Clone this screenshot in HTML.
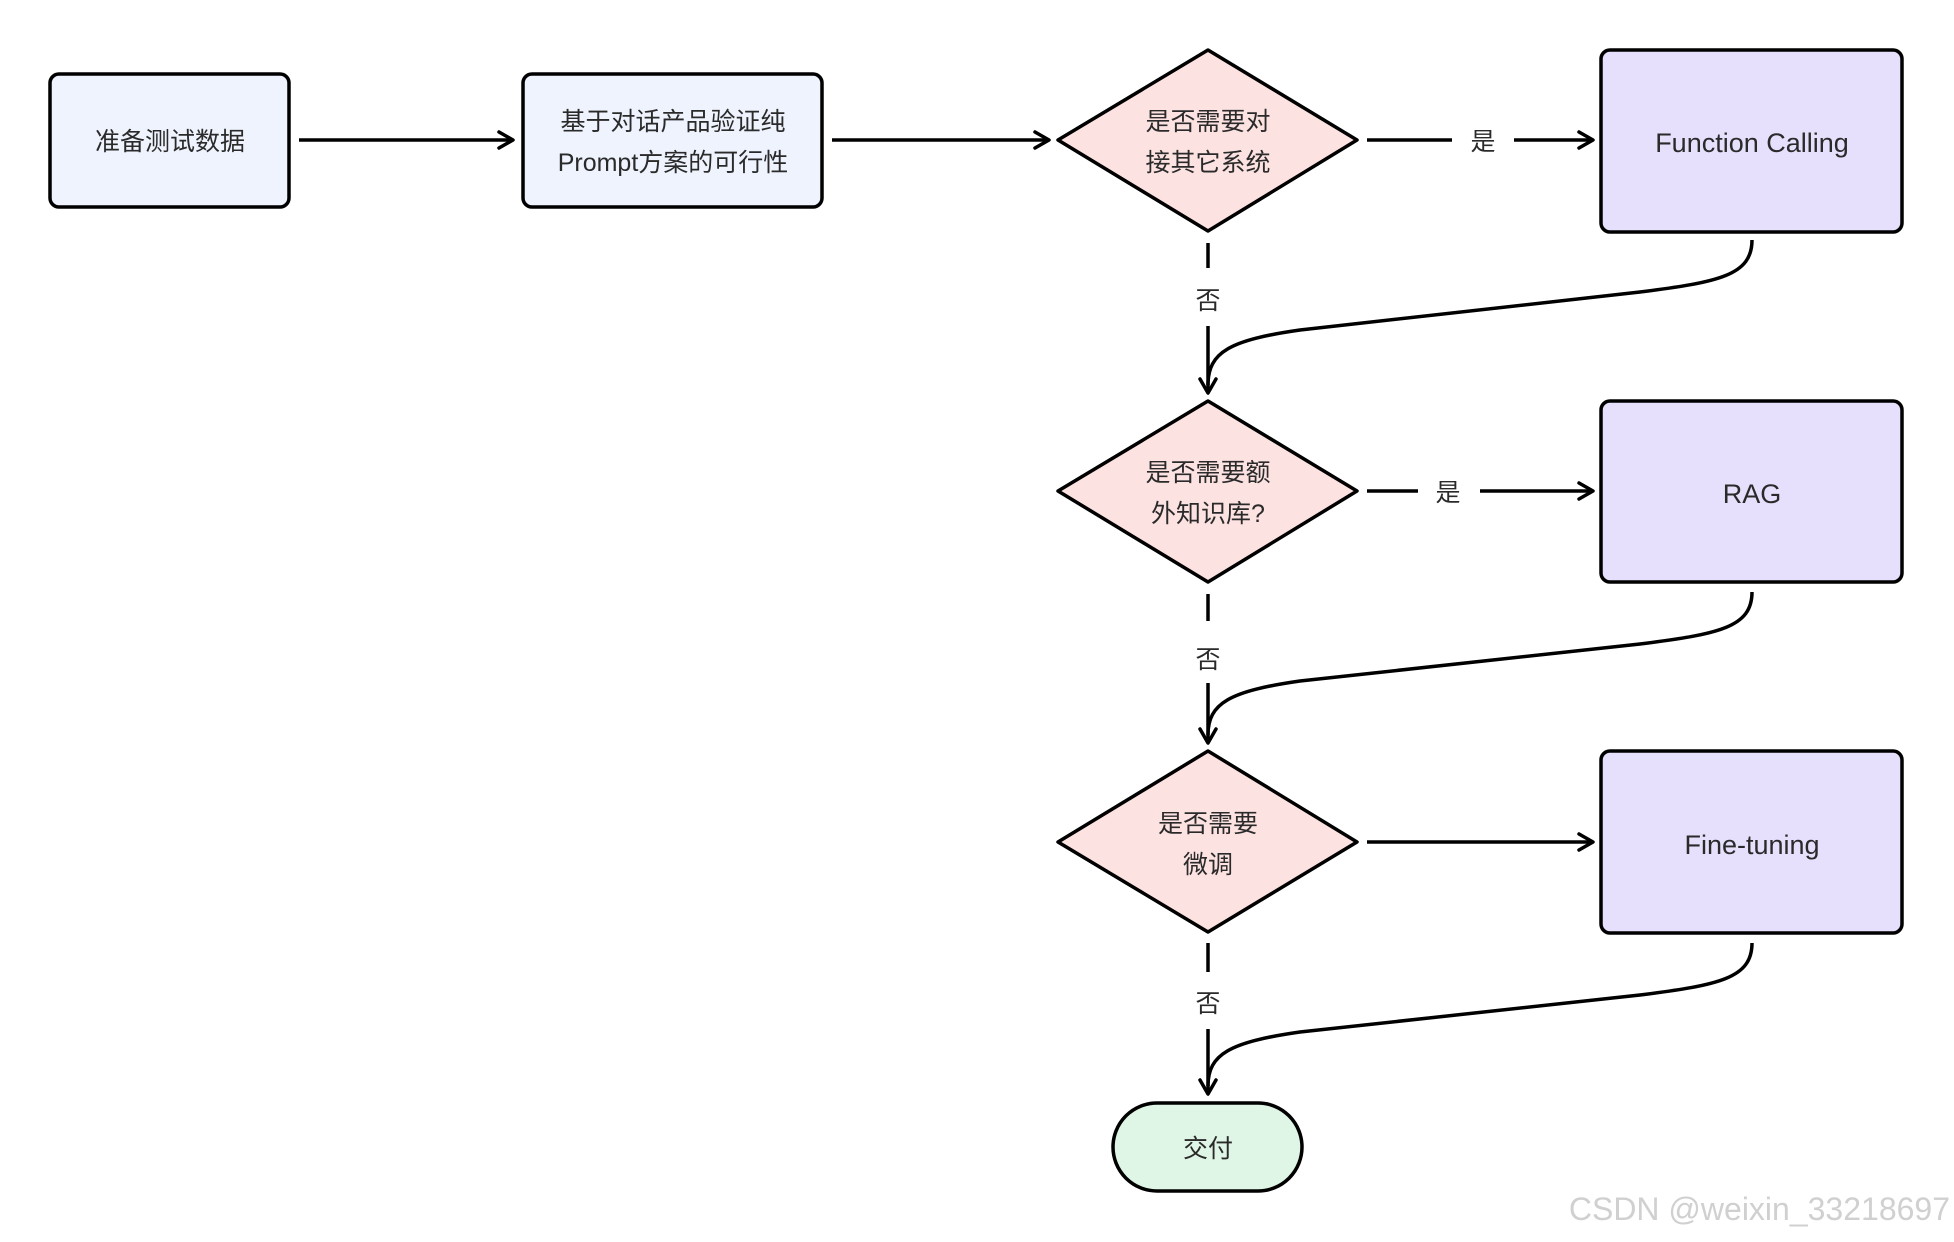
<!DOCTYPE html>
<html><head><meta charset="utf-8"><style>
html,body{margin:0;padding:0;background:#fff;}
svg{display:block;}
text{font-family:"Liberation Sans","Noto Sans CJK SC",sans-serif;fill:#2a2a2a;}
</style></head><body>
<svg width="1954" height="1242" viewBox="0 0 1954 1242" xmlns="http://www.w3.org/2000/svg">
<defs>
<marker id="a" viewBox="0 0 20 20" refX="18" refY="10" markerWidth="20" markerHeight="20" markerUnits="userSpaceOnUse" orient="auto">
<path d="M4 2 L18 10 L4 18" fill="none" stroke="#000" stroke-width="3.5" stroke-linecap="round" stroke-linejoin="round"/>
</marker>
</defs>
<g stroke="#000" stroke-width="3.5" fill="none">
<rect x="50" y="74" width="239" height="133" rx="9" fill="#eef3fd"/>
<rect x="523" y="74" width="299" height="133" rx="9" fill="#eef3fd"/>
<polygon points="1208,50 1357,140 1208,231 1058,140" fill="#fde2e2" stroke-linejoin="round"/>
<rect x="1601" y="50" width="301" height="182" rx="9" fill="#e6e0fc"/>
<polygon points="1208,401 1357,491 1208,582 1058,491" fill="#fde2e2" stroke-linejoin="round"/>
<rect x="1601" y="401" width="301" height="181" rx="9" fill="#e6e0fc"/>
<polygon points="1208,751 1357,842 1208,932 1058,842" fill="#fde2e2" stroke-linejoin="round"/>
<rect x="1601" y="751" width="301" height="182" rx="9" fill="#e6e0fc"/>
<rect x="1113" y="1103" width="189" height="88" rx="44" fill="#dff5e5"/>

<line x1="299" y1="140" x2="513" y2="140" marker-end="url(#a)"/>
<line x1="832" y1="140" x2="1049" y2="140" marker-end="url(#a)"/>
<line x1="1367" y1="140" x2="1452" y2="140"/>
<line x1="1514" y1="140" x2="1593" y2="140" marker-end="url(#a)"/>
<line x1="1367" y1="491" x2="1418" y2="491"/>
<line x1="1480" y1="491" x2="1593" y2="491" marker-end="url(#a)"/>
<line x1="1367" y1="842" x2="1593" y2="842" marker-end="url(#a)"/>

<line x1="1208" y1="243" x2="1208" y2="268"/>
<line x1="1208" y1="326" x2="1208" y2="393" marker-end="url(#a)"/>
<line x1="1208" y1="594" x2="1208" y2="621"/>
<line x1="1208" y1="683" x2="1208" y2="743" marker-end="url(#a)"/>
<line x1="1208" y1="943" x2="1208" y2="972"/>
<line x1="1208" y1="1029" x2="1208" y2="1094" marker-end="url(#a)"/>

<path d="M1752 240 C1752 275 1720 282 1640 292 L1300 330 C1230 340 1208 352 1208 385"/>
<path d="M1752 592 C1752 627 1720 634 1640 644 L1300 681 C1230 691 1208 703 1208 735"/>
<path d="M1752 943 C1752 978 1720 985 1640 995 L1300 1032 C1230 1042 1208 1054 1208 1086"/>
</g>
<g font-size="25" text-anchor="middle">
<text x="170" y="150">准备测试数据</text>
<text x="673" y="130">基于对话产品验证纯</text>
<text x="673" y="171">Prompt方案的可行性</text>
<text x="1208" y="130">是否需要对</text>
<text x="1208" y="171">接其它系统</text>
<text x="1752" y="152" font-size="27">Function Calling</text>
<text x="1483" y="150">是</text>
<text x="1208" y="309">否</text>
<text x="1208" y="481">是否需要额</text>
<text x="1208" y="522">外知识库?</text>
<text x="1752" y="503" font-size="27">RAG</text>
<text x="1448" y="501">是</text>
<text x="1208" y="668">否</text>
<text x="1208" y="832">是否需要</text>
<text x="1208" y="873">微调</text>
<text x="1752" y="854" font-size="27">Fine-tuning</text>
<text x="1208" y="1012">否</text>
<text x="1208" y="1157">交付</text>
</g>
<text x="1950" y="1220" text-anchor="end" font-size="32" style="fill:#d0d0d0">CSDN @weixin_33218697</text>
</svg>
</body></html>
